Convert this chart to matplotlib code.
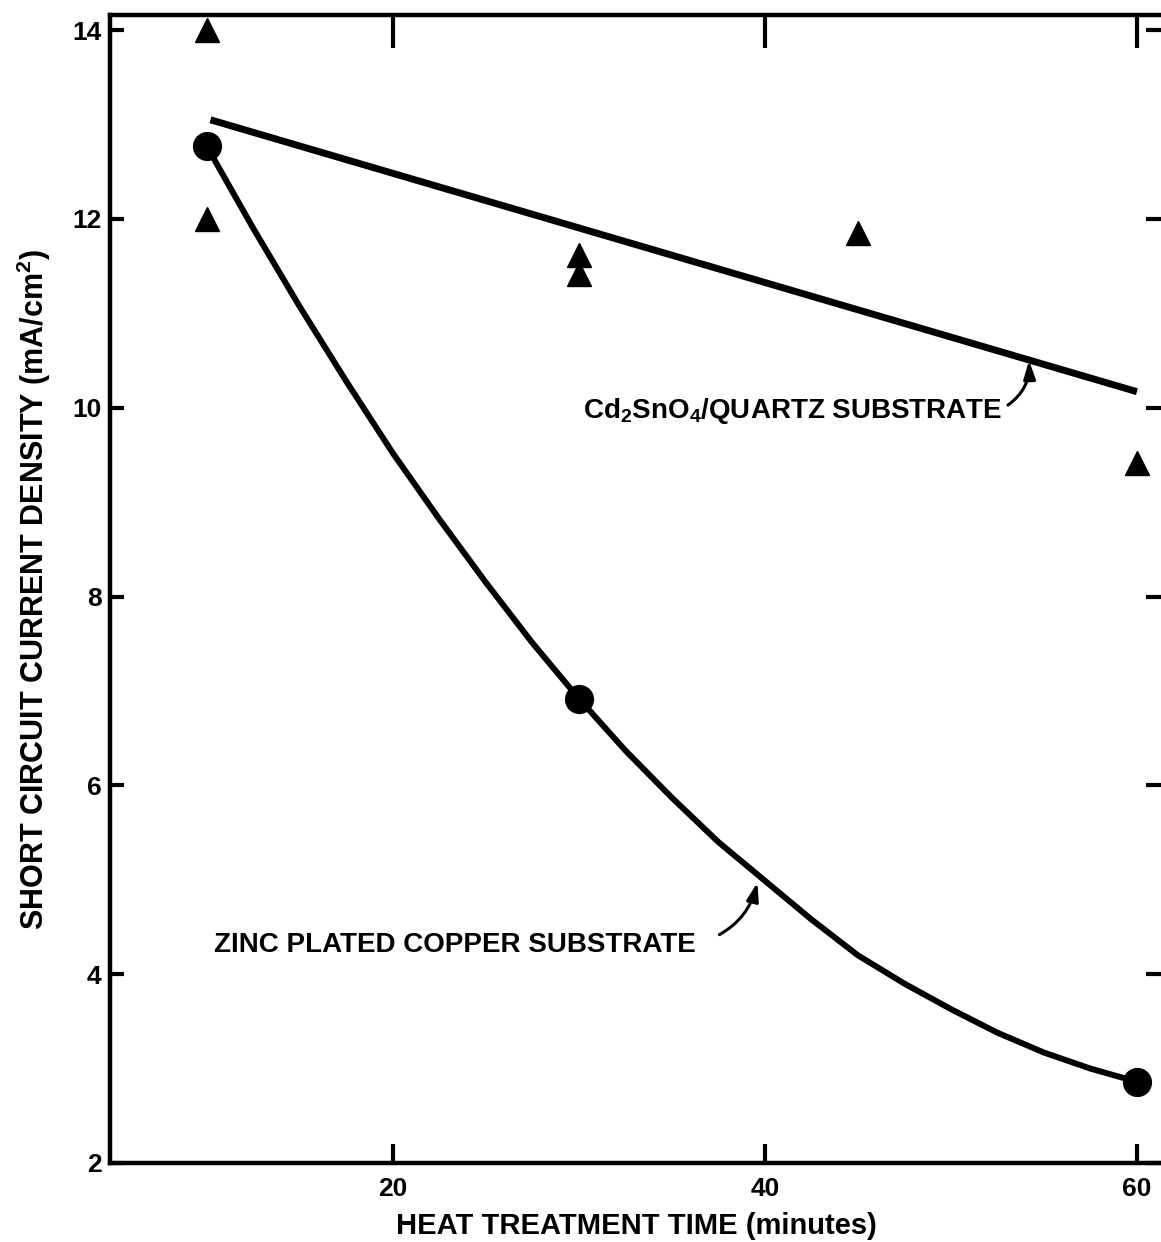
import numpy as np
import matplotlib
matplotlib.use('Agg')
import matplotlib.pyplot as plt

plt.rcParams['font.family'] = ['Liberation Sans', 'DejaVu Sans']
plt.rcParams['font.weight'] = 'bold'
plt.rcParams['mathtext.fontset'] = 'custom'
plt.rcParams['mathtext.rm'] = 'Liberation Sans:bold'
plt.rcParams['mathtext.default'] = 'rm'

# Cd2SnO4/石英衬底 -- 三角点
tri_x = [10, 10, 30, 30, 45, 60]
tri_y = [14.0, 12.0, 11.62, 11.42, 11.85, 9.41]

# 直线拟合两端
fit_x = [10.2, 60]
fit_y = [13.05, 10.17]

# 镀锌铜衬底 -- 圆点
dot_x = [10, 30, 60]
dot_y = [12.77, 6.92, 2.86]

# 镀锌铜衬底 -- 曲线
curve_x = [10, 12.5, 15, 17.5, 20, 22.5, 25, 27.5, 30, 32.5, 35,
           37.5, 40, 42.5, 45, 47.5, 50, 52.5, 55, 57.5, 60]
curve_y = [12.77, 11.90, 11.07, 10.28, 9.52, 8.82, 8.15, 7.51, 6.92, 6.37, 5.87,
           5.40, 4.99, 4.58, 4.20, 3.90, 3.63, 3.38, 3.17, 3.00, 2.86]

x_ticks = [20, 40, 60]
y_ticks = [2, 4, 6, 8, 10, 12, 14]

fig = plt.figure(figsize=(11.61, 12.42), dpi=100)
ax = fig.add_axes([110 / 1161, 79 / 1242, 1053 / 1161, 1148 / 1242])

ax.set_xlim(4.8, 61.4)
ax.set_ylim(2.0, 14.16)

# 轨迹线
ax.plot(fit_x, fit_y, color='black', linewidth=5.0, solid_capstyle='butt')
ax.plot(curve_x, curve_y, color='black', linewidth=4.3, solid_joinstyle='round')

# 数据点
ax.plot(tri_x, tri_y, linestyle='none', marker='^', markersize=17, color='black')
ax.plot(dot_x, dot_y, linestyle='none', marker='o', markersize=20, color='black')

# 坐标轴
for s in ['left', 'bottom', 'top']:
    ax.spines[s].set_linewidth(3.2)
ax.spines['right'].set_visible(False)

ax.set_xticks(x_ticks)
ax.set_yticks(y_ticks)
ax.tick_params(axis='x', direction='in', length=14, width=3, top=True, labelsize=19, pad=10)
ax.tick_params(axis='y', direction='in', length=10, width=3, right=True, labelsize=19, pad=6)
for t in ax.xaxis.get_major_ticks():
    t.tick2line.set_markersize(24)
for t in ax.yaxis.get_major_ticks():
    t.tick2line.set_markersize(12)

ax.set_xlabel('HEAT TREATMENT TIME (minutes)', fontsize=21, fontweight='bold', labelpad=8)
ax.set_ylabel('SHORT CIRCUIT CURRENT DENSITY (mA/cm$^2$)', fontsize=22, fontweight='bold', labelpad=14)

# 注释
arrow_kw = dict(arrowstyle='-|>,head_length=0.55,head_width=0.18',
                connectionstyle='arc3,rad=0.3', lw=2.2, color='black',
                relpos=(1.0, 0.55), shrinkA=3, shrinkB=0)
ax.annotate('Cd$_2$SnO$_4$/QUARTZ SUBSTRATE', xy=(54.2, 10.5), xytext=(30.2, 9.97),
            fontsize=20, fontweight='bold', va='center', ha='left',
            arrowprops=arrow_kw)
ax.annotate('ZINC PLATED COPPER SUBSTRATE', xy=(39.6, 4.97), xytext=(10.4, 4.31),
            fontsize=20, fontweight='bold', va='center', ha='left',
            arrowprops=dict(arrow_kw, shrinkA=16))

plt.savefig('out.png', dpi=100)
